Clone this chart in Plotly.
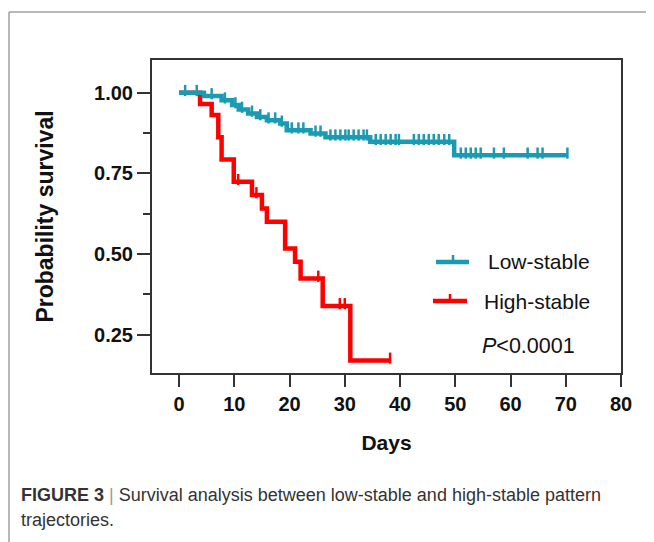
import numpy as np
import plotly.graph_objects as go

# ---------------- data ----------------
low_times = [0, 4.5, 7.7, 9.6, 10.8, 12.5, 14.1, 15.9, 18.3, 19.5, 23.8, 26.5, 34.6, 49.8]
low_surv = [1.0, 0.99, 0.977, 0.962, 0.948, 0.936, 0.925, 0.915, 0.905, 0.884, 0.874, 0.862, 0.848, 0.806]
low_end = 70.3
low_censor = [1.1, 3.2, 5.9, 8.3, 10.2, 11.4, 13.2, 14.7, 16.2, 17.4, 18.6, 20.4, 21.6, 22.5,
              24.7, 25.6, 27.4, 28.3, 29.2, 30.1, 30.7, 31.6, 32.5, 33.4, 34.0, 35.6, 36.5,
              37.4, 38.3, 39.2, 39.8, 42.5, 43.4, 44.3, 45.2, 46.1, 47.0, 48.0, 48.9, 51.0,
              51.9, 52.8, 53.7, 54.6, 57.0, 58.8, 63.1, 64.9, 65.8, 70.3]

high_times = [0, 3.8, 5.9, 7.1, 7.7, 9.9, 13.2, 15.0, 15.9, 19.2, 21.0, 22.0, 26.0, 31.0]
high_surv = [1.0, 0.965, 0.931, 0.862, 0.793, 0.724, 0.683, 0.641, 0.600, 0.517, 0.476, 0.424, 0.339, 0.170]
high_end = 38.2
high_censor = [10.7, 14.0, 25.2, 29.1, 30.0, 38.2]

series_names = ["Low-stable", "High-stable"]
x_ticks = [0, 10, 20, 30, 40, 50, 60, 70, 80]
y_ticks = [0.25, 0.50, 0.75, 1.00]
y_minor = [0.375, 0.625, 0.875]
p_text = "<i>P</i>&lt;0.0001"
caption1 = "<b>FIGURE 3</b> <span style='color:#9a9a9a'>|</span> Survival analysis between low-stable and high-stable pattern"
caption2 = "trajectories."

TEAL = "#1a9bb1"
RED = "#ff0000"
FONT = "Liberation Sans, Arial, sans-serif"

# ---------------- layout geometry (page pixel coords; page body has 8px margin) ----------------
OFF = 8
W, H = 654 - OFF, 542 - OFF
L, R, T, B = 152, 621, 60, 373


def px(x):
    return (x - L) / (R - L)


def py(y):
    return (B - y) / (B - T)


def step_val(times, surv, t):
    idx = np.searchsorted(np.array(times), np.array(t), side="right") - 1
    return np.array(surv)[idx]


fig = go.Figure()

for times, surv, end, cens, color in [
    (high_times, high_surv, high_end, high_censor, RED),
    (low_times, low_surv, low_end, low_censor, TEAL),
]:
    xs = list(times) + [end]
    ys = list(surv) + [surv[-1]]
    fig.add_trace(go.Scatter(x=xs, y=ys, mode="lines", line=dict(color=color, width=4.5, shape="hv"),
                             showlegend=False, hoverinfo="skip"))
    cy = step_val(times, surv, cens) + 0.007
    fig.add_trace(go.Scatter(x=cens, y=cy, mode="markers",
                             marker=dict(symbol="line-ns", size=8, line=dict(color=color, width=2.5)),
                             showlegend=False, hoverinfo="skip"))

fig.update_xaxes(range=[-4.9, 80], tickvals=x_ticks, ticktext=["<b>%d</b>" % v for v in x_ticks],
                 ticks="outside", ticklen=12, tickwidth=2, tickcolor="#333333",
                 showline=True, linecolor="#333333", linewidth=2, mirror=True,
                 showgrid=False, zeroline=False,
                 tickfont=dict(family=FONT, size=20, color="#111111"),
                 title=dict(text="<b>Days</b>", font=dict(family=FONT, size=21, color="#111111"), standoff=21))
fig.update_yaxes(range=[0.131, 1.1016], tickvals=y_ticks, ticktext=["<b>%.2f</b>" % v for v in y_ticks],
                 ticks="outside", ticklen=13, tickwidth=2, tickcolor="#333333",
                 minor=dict(tickvals=y_minor, ticks="outside", ticklen=7, tickwidth=2, tickcolor="#333333"),
                 showline=True, linecolor="#333333", linewidth=2, mirror=True,
                 showgrid=False, zeroline=False,
                 tickfont=dict(family=FONT, size=20, color="#111111"),
                 title=dict(text="<b>Probability survival</b>", font=dict(family=FONT, size=23, color="#111111"), standoff=34))

shapes = []
# outer figure frame (gray)
shapes.append(dict(type="line", xref="paper", yref="paper", x0=px(9), x1=px(660), y0=py(12), y1=py(12),
                   line=dict(color="#a0a0a0", width=1.5)))
shapes.append(dict(type="line", xref="paper", yref="paper", x0=px(9), x1=px(9), y0=py(12), y1=py(545),
                   line=dict(color="#a0a0a0", width=1.5)))
# manual legend symbols
for (x0, x1, xt, yy, color) in [(436, 469, 453, 262, TEAL), (433, 467, 450, 301, RED)]:
    shapes.append(dict(type="line", xref="paper", yref="paper", x0=px(x0), x1=px(x1), y0=py(yy), y1=py(yy),
                       line=dict(color=color, width=4.5)))
    shapes.append(dict(type="line", xref="paper", yref="paper", x0=px(xt), x1=px(xt), y0=py(yy), y1=py(yy - 7),
                       line=dict(color=color, width=2.5)))

annotations = [
    dict(text=series_names[0], xref="paper", yref="paper", x=px(486), y=py(262), xanchor="left", yanchor="middle",
         showarrow=False, font=dict(family=FONT, size=21, color="#111111")),
    dict(text=series_names[1], xref="paper", yref="paper", x=px(482), y=py(301), xanchor="left", yanchor="middle",
         showarrow=False, font=dict(family=FONT, size=21, color="#111111")),
    dict(text=p_text, xref="paper", yref="paper", x=px(480), y=py(346), xanchor="left", yanchor="middle",
         showarrow=False, font=dict(family=FONT, size=21.5, color="#111111")),
    dict(text=caption1, xref="paper", yref="paper", x=px(19), y=py(495), xanchor="left", yanchor="middle",
         showarrow=False, font=dict(family=FONT, size=18, color="#333333")),
    dict(text=caption2, xref="paper", yref="paper", x=px(19), y=py(520), xanchor="left", yanchor="middle",
         showarrow=False, font=dict(family=FONT, size=18, color="#333333")),
]

fig.update_layout(width=W, height=H,
                  margin=dict(l=L - OFF, r=W - (R - OFF), t=T - OFF, b=H - (B - OFF), autoexpand=False),
                  paper_bgcolor="white", plot_bgcolor="white",
                  shapes=shapes, annotations=annotations, showlegend=False)

fig.write_html("out.html")
